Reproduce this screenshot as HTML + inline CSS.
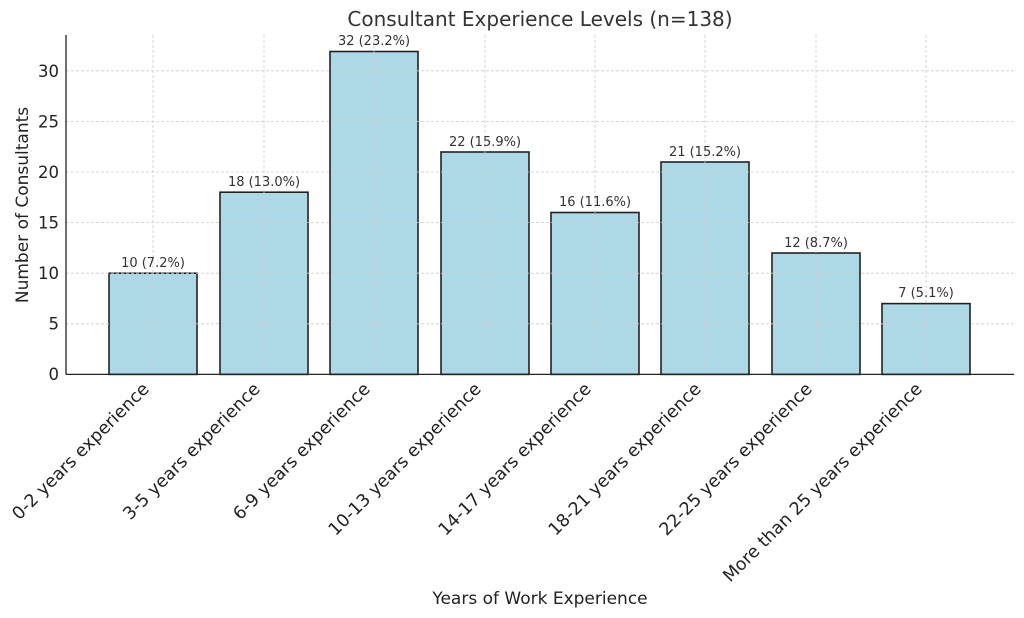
<!DOCTYPE html>
<html><head><meta charset="utf-8"><style>body{margin:0;background:#fff}svg{display:block;font-family:"DejaVu Sans","Liberation Sans",sans-serif}</style></head>
<body>
<svg width="1024" height="618" xmlns="http://www.w3.org/2000/svg">
<rect width="1024" height="618" fill="#fff"/>
<text x="540" y="26" font-size="20" text-anchor="middle" fill="#333">Consultant Experience Levels (n=138)</text>
<g fill="#add8e6" stroke="#222" stroke-width="1.6">
<rect x="109" y="273.2" width="88" height="101.2"/>
<rect x="220" y="192.2" width="88" height="182.2"/>
<rect x="330" y="51.5" width="88" height="322.9"/>
<rect x="441" y="152" width="88" height="222.4"/>
<rect x="551" y="212.5" width="88" height="161.9"/>
<rect x="661" y="162" width="88" height="212.4"/>
<rect x="772" y="253" width="88" height="121.4"/>
<rect x="882" y="303.6" width="88" height="70.8"/>
</g>
<g stroke="#ccc" stroke-width="0.8" stroke-dasharray="3,2">
<line x1="66" x2="1014" y1="323.8" y2="323.8"/><line x1="66" x2="1014" y1="273.2" y2="273.2"/><line x1="66" x2="1014" y1="222.6" y2="222.6"/><line x1="66" x2="1014" y1="172" y2="172"/><line x1="66" x2="1014" y1="121.4" y2="121.4"/><line x1="66" x2="1014" y1="70.8" y2="70.8"/>
<line x1="153" x2="153" y1="35" y2="374"/><line x1="264" x2="264" y1="35" y2="374"/><line x1="374" x2="374" y1="35" y2="374"/><line x1="485" x2="485" y1="35" y2="374"/><line x1="595" x2="595" y1="35" y2="374"/><line x1="705" x2="705" y1="35" y2="374"/><line x1="816" x2="816" y1="35" y2="374"/><line x1="926" x2="926" y1="35" y2="374"/>
</g>
<g stroke="#222" stroke-width="1.3"><line x1="66" y1="35" x2="66" y2="374.4"/><line x1="66" y1="374.4" x2="1014" y2="374.4"/></g>
<g font-size="16.5" fill="#222" text-anchor="end">
<text x="59" y="380">0</text><text x="59" y="329.5">5</text><text x="59" y="279">10</text><text x="59" y="228.5">15</text><text x="59" y="178">20</text><text x="59" y="127.5">25</text><text x="59" y="77">30</text>
</g>
<text transform="translate(28,205) rotate(-90)" font-size="17" fill="#222" text-anchor="middle">Number of Consultants</text>
<g font-size="13" fill="#333" text-anchor="middle">
<text x="153" y="267">10 (7.2%)</text><text x="264" y="186">18 (13.0%)</text><text x="374" y="45">32 (23.2%)</text><text x="485" y="146">22 (15.9%)</text><text x="595" y="206">16 (11.6%)</text><text x="705" y="156">21 (15.2%)</text><text x="816" y="247">12 (8.7%)</text><text x="926" y="297">7 (5.1%)</text>
</g>
<g font-size="17.5" fill="#222" text-anchor="end">
<text transform="translate(150,390) rotate(-45)">0-2 years experience</text>
<text transform="translate(261,390) rotate(-45)">3-5 years experience</text>
<text transform="translate(371,390) rotate(-45)">6-9 years experience</text>
<text transform="translate(482,390) rotate(-45)">10-13 years experience</text>
<text transform="translate(592,390) rotate(-45)">14-17 years experience</text>
<text transform="translate(702,390) rotate(-45)">18-21 years experience</text>
<text transform="translate(813,390) rotate(-45)">22-25 years experience</text>
<text transform="translate(923,390) rotate(-45)">More than 25 years experience</text>
</g>
<text x="540" y="604" font-size="17" fill="#222" text-anchor="middle">Years of Work Experience</text>
</svg>
</body></html>
